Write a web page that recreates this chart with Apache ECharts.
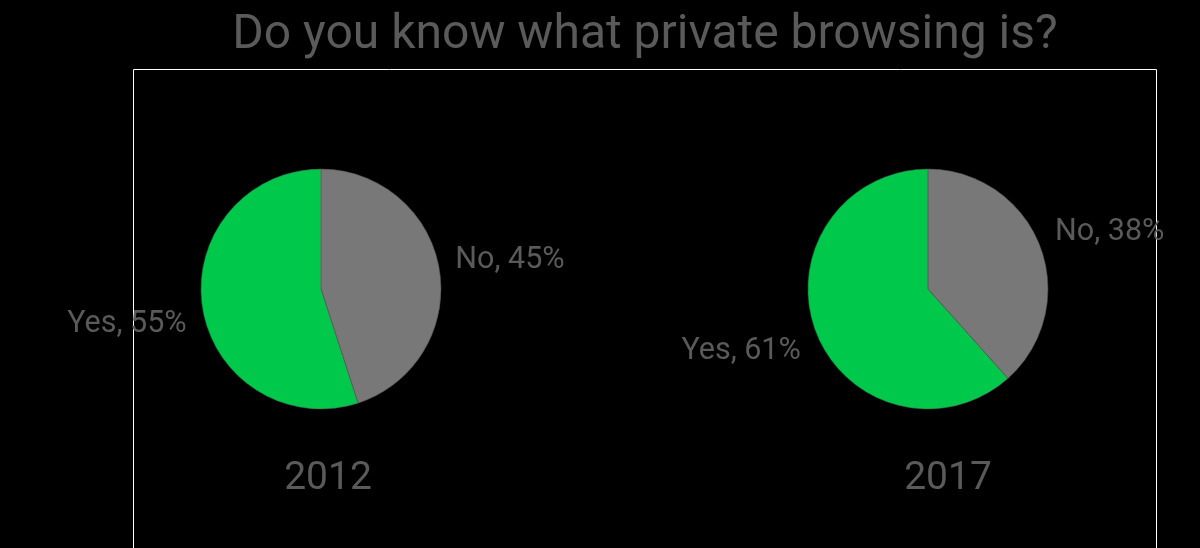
<!DOCTYPE html>
<html>
<head>
<meta charset="utf-8">
<script src="https://cdn.jsdelivr.net/npm/echarts@6/dist/echarts.min.js"></script>
<style>html,body{margin:0;padding:0;background:#000;}#c{width:1200px;height:548px;}</style>
</head>
<body>
<div id="c"></div>
<script>
const chartTitle = 'Do you know what private browsing is?';
const years = ['2012', '2017'];
const categories = ['No', 'Yes'];
const values2012 = [45, 55];
const values2017 = [38, 61];
const sliceColors = ['#787878', '#00c84b'];
const textColor = '#5a5a5a';

const chart = echarts.init(document.getElementById('c'));
const centers = [['26.75%', 289], ['77.33%', 289]];
const labelOffsets = [[-4, -8], [4, 14]];

function makeSeries(vals, idx) {
  return {
    type: 'pie',
    center: centers[idx],
    radius: 120,
    startAngle: 90,
    clockwise: true,
    silent: true,
    animation: false,
    avoidLabelOverlap: false,
    itemStyle: { borderColor: '#555', borderWidth: 0.5 },
    label: {
      show: true,
      position: 'outside',
      formatter: p => p.name + ', ' + Math.round(p.value) + '%',
      color: textColor,
      fontFamily: 'Roboto',
      fontSize: 30.5,
      distanceToLabelLine: 5
    },
    labelLine: { show: false, length: 15, length2: 0 },
    data: categories.map((c, i) => ({
      name: c,
      value: vals[i],
      itemStyle: { color: sliceColors[i] },
      label: { offset: labelOffsets[i] }
    }))
  };
}

chart.setOption({
  backgroundColor: '#000',
  title: [
    { text: chartTitle, left: 640, top: 7, textAlign: 'center', padding: 5,
      textStyle: { color: textColor, fontFamily: 'Roboto', fontWeight: 'normal', fontSize: 48 } },
    { text: years[0], left: 323, top: 455, textAlign: 'center',
      textStyle: { color: textColor, fontFamily: 'Roboto', fontWeight: 'normal', fontSize: 39 } },
    { text: years[1], left: 943, top: 455, textAlign: 'center',
      textStyle: { color: textColor, fontFamily: 'Roboto', fontWeight: 'normal', fontSize: 39 } }
  ],
  graphic: [{
    type: 'rect',
    shape: { x: 133.5, y: 69.5, width: 1023, height: 500 },
    style: { fill: 'none', stroke: '#ffffff', lineWidth: 1 },
    silent: true, z: -1
  }],
  series: [makeSeries(values2012, 0), makeSeries(values2017, 1)]
});
</script>
</body>
</html>
